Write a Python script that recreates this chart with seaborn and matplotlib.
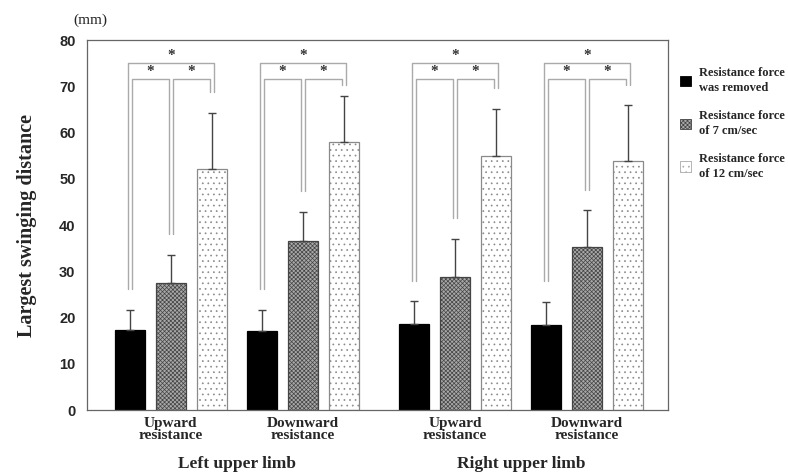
import numpy as np
import pandas as pd
import matplotlib
matplotlib.use("Agg")
import matplotlib.pyplot as plt
import seaborn as sns

# data
groups = ["Upward\nresistance", "Downward\nresistance", "Upward\nresistance", "Downward\nresistance"]
limbs = ["Left upper limb", "Right upper limb"]
conditions = ["Resistance force\nwas removed", "Resistance force\nof 7 cm/sec", "Resistance force\nof 12 cm/sec"]
group_pos = [0.0, 1.0, 2.152, 3.152]

mean_removed = [17.3, 17.2, 18.7, 18.5]
mean_7 = [27.5, 36.5, 28.7, 35.3]
mean_12 = [52.1, 58.0, 55.0, 53.8]

sd_removed = [4.3, 4.4, 4.8, 4.9]
sd_7 = [6.1, 6.3, 8.3, 7.9]
sd_12 = [12.2, 10.0, 10.1, 12.1]

sns.set_style("white")
plt.rcParams["font.family"] = ["Liberation Serif", "DejaVu Serif"]
plt.rcParams["hatch.linewidth"] = 0.5

rows = []
for means, cond in zip([mean_removed, mean_7, mean_12], conditions):
    for pos, m in zip(group_pos, means):
        rows.append({"pos": pos, "condition": cond, "value": m})
df = pd.DataFrame(rows)

fig, ax = plt.subplots(figsize=(7.88, 4.72), dpi=100)
fig.subplots_adjust(left=0.110, right=0.848, top=0.915, bottom=0.131)

palette = {conditions[0]: "#000000", conditions[1]: "#a8a8a8", conditions[2]: "#ffffff"}
sns.barplot(data=df, x="pos", y="value", hue="condition", hue_order=conditions,
            palette=palette, native_scale=True, width=0.93, gap=0.27,
            errorbar=None, ax=ax, saturation=1)

hatches = [None, "xxxxxxxx", "..."]
edges = ["#000000", "#444444", "#8a8a8a"]
sds = [sd_removed, sd_7, sd_12]
centers = []
tops = []
for cont, h, ec, sd in zip(ax.containers, hatches, edges, sds):
    xs, ys = [], []
    for bar in cont:
        bar.set_edgecolor(ec)
        bar.set_linewidth(0.9)
        if h:
            bar.set_hatch(h)
        xs.append(bar.get_x() + bar.get_width() / 2)
        ys.append(bar.get_height())
    xs = np.array(xs)
    ys = np.array(ys)
    ax.errorbar(xs, ys, yerr=[np.zeros_like(sd), sd], fmt="none",
                ecolor="#444444", elinewidth=1, capsize=3, capthick=1)
    centers.append(xs)
    tops.append(ys + np.array(sd))
centers = np.array(centers).T
tops = np.array(tops).T

# significance brackets
inner_y, outer_y = 71.6, 75.0
off = 0.015
bc = "#aaaaaa"
star = dict(ha="center", va="bottom", fontsize=11, color="#333333", fontweight="bold")
for c, t in zip(centers, tops):
    leg = [min(v + 4.5, inner_y - 1.3) for v in t]
    # inner left
    xa, xb = c[0] + off, c[1] - off
    ax.plot([xa, xa, xb, xb], [leg[0], inner_y, inner_y, leg[1]], color=bc, lw=1)
    ax.text((xa + xb) / 2, inner_y + 0.3, "*", **star)
    # inner right
    xa, xb = c[1] + off, c[2] - off
    ax.plot([xa, xa, xb, xb], [leg[1], inner_y, inner_y, leg[2]], color=bc, lw=1)
    ax.text((xa + xb) / 2, inner_y + 0.3, "*", **star)
    # outer
    xa, xb = c[0] - off, c[2] + off
    ax.plot([xa, xa, xb, xb], [leg[0], outer_y, outer_y, leg[2]], color=bc, lw=1)
    ax.text((xa + xb) / 2, outer_y + 0.3, "*", **star)

ax.set_ylim(0, 80)
ax.set_xlim(-0.636, 3.766)
ax.set_yticks(np.arange(0, 81, 10))
ax.set_yticklabels([str(v) for v in range(0, 81, 10)], family="Liberation Sans",
                   fontweight="bold", fontsize=10.5)
ax.set_xticks(group_pos)
ax.set_xticklabels(groups, fontweight="bold", fontsize=11, linespacing=0.85)
ax.tick_params(axis="x", length=0, pad=5)
ax.tick_params(axis="y", direction="in", length=4, color="#888888", pad=8)
ax.set_xlabel("")
ax.set_ylabel("Largest swinging distance", fontsize=14.5, fontweight="bold", labelpad=16)
for s in ax.spines.values():
    s.set_color("#666666")
    s.set_linewidth(0.9)

trans = matplotlib.transforms.blended_transform_factory(ax.transData, ax.transAxes)
ax.text((group_pos[0] + group_pos[1]) / 2, -0.145, limbs[0], transform=trans,
        ha="center", va="center", fontsize=12.5, fontweight="bold")
ax.text((group_pos[2] + group_pos[3]) / 2, -0.145, limbs[1], transform=trans,
        ha="center", va="center", fontsize=12.5, fontweight="bold")
fig.text(0.115, 0.958, "(mm)", ha="center", va="center", fontsize=11)

sns.move_legend(ax, "upper left", bbox_to_anchor=(1.012, 0.94), frameon=False,
                title=None, handlelength=0.9, handleheight=0.9, labelspacing=1.25,
                handletextpad=0.6, borderaxespad=0,
                prop={"family": "Liberation Serif", "weight": "bold", "size": 9})
for txt in ax.legend_.get_texts():
    txt.set_linespacing(1.35)
for hnd, h, ec in zip(ax.legend_.legend_handles, hatches, edges):
    hnd.set_edgecolor("#aaaaaa" if h == "..." else ec)
    hnd.set_linewidth(0.6)
    if h:
        hnd.set_hatch(h)

fig.savefig("out.png", dpi=100)
